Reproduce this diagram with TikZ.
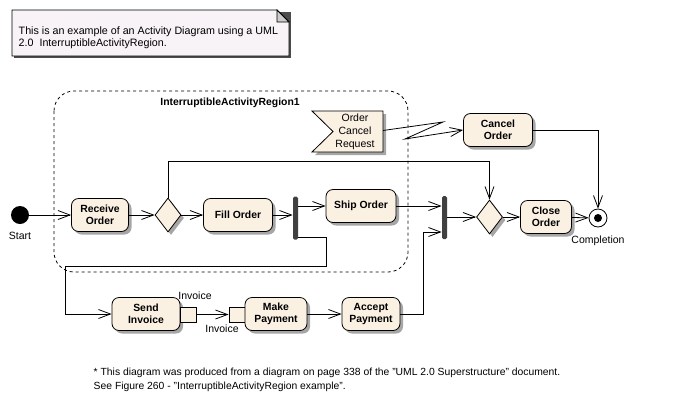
\documentclass[tikz,border=0pt]{standalone}
\usepackage{fontspec}
\setmainfont{Liberation Sans}
\usetikzlibrary{shapes.geometric}
\usetikzlibrary{arrows.meta}
\usetikzlibrary{shadows}
\usetikzlibrary{calc}
\usetikzlibrary{math}

\definecolor{actfill}{HTML}{FBF1E3}
\definecolor{notefill}{HTML}{F7F3F6}
\definecolor{barfill}{HTML}{404040}
\definecolor{shadowgray}{HTML}{A6A6A6}

\begin{document}
\begin{tikzpicture}[x=1pt,y=-1pt,line width=0.8pt,
  txt/.style={font=\fontsize{10.5}{13}\selectfont},
  bold/.style={font=\bfseries\fontsize{10.4}{12.5}\selectfont},
  shade/.style={drop shadow={shadow xshift=3pt,shadow yshift=-3pt,fill=shadowgray,opacity=1}},
  flow/.style={-{Straight Barb[length=12pt,width=9pt]}},
  action/.style={bold,draw,shade,rounded corners=7pt,fill=actfill,
    minimum height=33pt,align=center,inner sep=1pt},
  decision/.style={draw,shade,diamond,fill=actfill,minimum width=26pt,
    minimum height=34pt,inner sep=0pt},
  bar/.style={fill=barfill,rounded corners=1.5pt,minimum width=5pt,
    minimum height=43pt,inner sep=0pt},
  pinbox/.style={draw,fill=actfill,minimum width=16pt,minimum height=15pt,inner sep=0pt}]

  \tikzmath{
    \dotsize   = 18;  % diameter of start and final nodes
    \notchdeep = 21;  % depth of the accept event notch
  }

  \useasboundingbox (0,0) rectangle (688,400);

  % note in the upper left corner
  \fill[black!70] (14,12) rectangle (291,58);
  \draw[fill=notefill] (12,10) -- (277,10) -- (289,22) -- (289,56) -- (12,56) -- cycle;
  \draw[fill=black!20] (277,10) -- (277,22) -- (289,22) -- cycle;
  \node[txt,anchor=west,align=left,font=\fontsize{10.7}{11.5}\selectfont] (note) at (15,37.5)
    {This is an example of an Activity Diagram using a UML\\2.0\ \ InterruptibleActivityRegion.};

  % interruptible region
  \draw[dash pattern=on 3pt off 3pt,rounded corners=20pt] (54,91) rectangle (408,272);
  \node[bold] (region) at (230,103) {InterruptibleActivityRegion1};

  % accept event signal
  \coordinate (ocrc) at (355,131.5);
  \draw[fill=actfill,shade] ($(ocrc)+(-43,-20.5)$) -- ++(71,0) -- ++(0,41)
    -- ++(-71,0) -- ++(\notchdeep,-20.5) -- cycle;
  \node[txt,align=center] (ocr) at (ocrc) {Order\\Cancel\\Request};
  \coordinate (ocrout) at ($(ocrc)+(28,-1)$);
  \coordinate (zigA) at (443,122);
  \coordinate (zigB) at (405,139);

  % start and final nodes
  \node[circle,fill=black,minimum size=\dotsize,inner sep=0pt] (start) at (20,215) {};
  \node[txt] (startlabel) at (20,236) {Start};
  \node[circle,draw,fill=white,minimum size=\dotsize,inner sep=0pt] (final) at (598,218) {};
  \fill (final) circle (4);
  \node[txt] (finallabel) at (598,241) {Completion};

  % actions of the main row
  \node[action,minimum width=57pt] (receive) at (100,215) {Receive\\Order};
  \node[decision] (dec1) at (168,215) {};
  \node[action,minimum width=69pt] (fill) at (238,215) {Fill Order};
  \node[bar] (fork) at (295.5,218) {};
  \node[action,minimum width=70pt] (ship) at (361,206) {Ship Order};
  \node[bar] (join) at (444.5,217.5) {};
  \node[decision] (dec2) at (489.5,217) {};
  \node[action,minimum width=51pt] (close) at (546,217) {Close\\Order};
  \node[action,minimum width=69pt] (cancel) at (498,130) {Cancel\\Order};

  % actions of the lower row
  \node[action,minimum width=68pt] (send) at (146,314) {Send\\Invoice};
  \node[pinbox] (outpin) at (188,314.5) {};
  \node[pinbox] (inpin) at (237,314.5) {};
  \node[action,minimum width=62pt] (make) at (276,314) {Make\\Payment};
  \node[action,minimum width=58pt] (accept) at (371,314) {Accept\\Payment};
  \node[txt] (outlabel) at (195,296) {Invoice};
  \node[txt] (inlabel) at (222,329) {Invoice};

  % bends of the long connectors
  \coordinate (forklow) at ($(fork.east)+(0,19)$);
  \coordinate (bendA) at (326,266);
  \coordinate (bendB) at (65,314);
  \coordinate (bendC) at (423,232);

  % control flows
  \draw[flow] (start) -- (receive);
  \draw[flow] (receive) -- (dec1);
  \draw[flow] (dec1) -- (fill);
  \draw[flow] (fill.east) -- (fill.east -| fork.west);
  \draw[flow] (fork.east |- ship.west) -- (ship.west);
  \draw[flow] (ship.east) -- (ship.east -| join.west);
  \draw[flow] (join.east |- dec2) -- (dec2.west);
  \draw[flow] (dec2) -- (close);
  \draw[flow] (close) -- (final);
  \draw[flow] (dec1.north) -- ++(0,-36) -| (dec2.north);
  \draw[flow] (cancel.east) -| (final.north);
  \draw[flow] (ocrout) -- (zigA) -- (zigB) -- (cancel.west);
  \draw[flow] (forklow) -| (bendA) -| (bendB) -- (send.west);
  \draw[flow] (outpin.east) -- (inpin.west);
  \draw[flow] (make) -- (accept);
  \draw[flow] (accept.east) -| (bendC) -- (bendC -| join.west);

  % footnote
  \node[txt,anchor=north west,align=left,font=\fontsize{10.35}{14}\selectfont] (footnote) at (90,364)
    {* This diagram was produced from a diagram on page 338 of the "UML 2.0 Superstructure" document.\\
     See Figure 260 - "InterruptibleActivityRegion example".};

\end{tikzpicture}
\end{document}
